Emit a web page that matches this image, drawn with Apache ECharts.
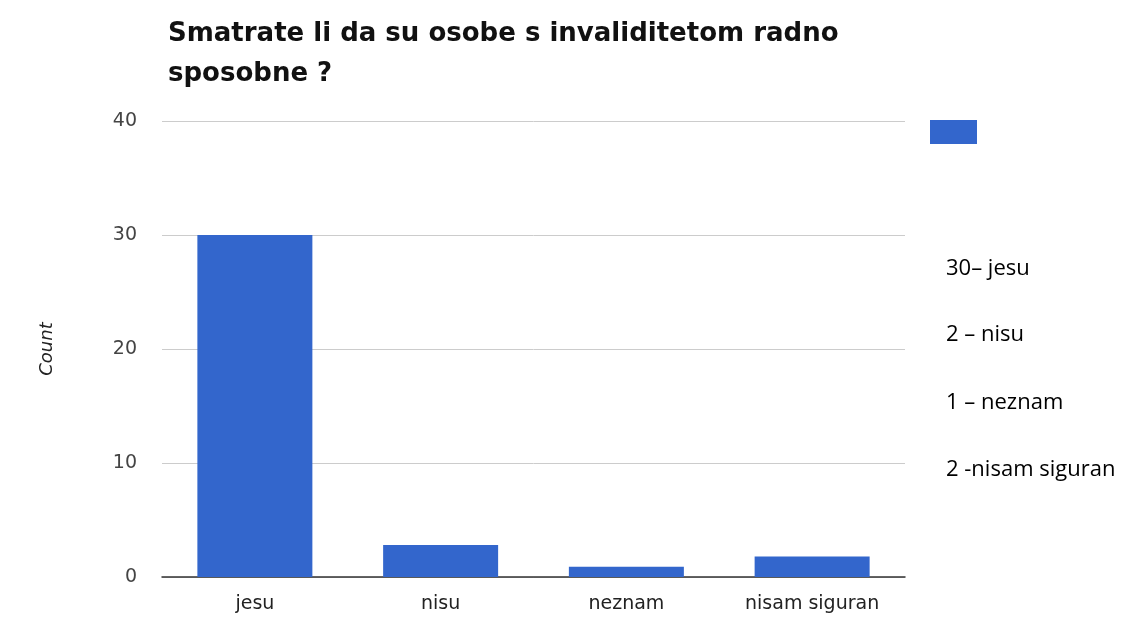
<!DOCTYPE html>
<html>
<head>
<meta charset="utf-8">
<script src="https://cdn.jsdelivr.net/npm/echarts@6/dist/echarts.min.js"></script>
<style>
  html, body { margin: 0; padding: 0; background: #fff; }
  #chart { width: 1146px; height: 617px; }
</style>
</head>
<body>
<div id="chart"></div>
<script>
const categories = ['jesu', 'nisu', 'neznam', 'nisam siguran'];
const counts = [30, 2.8, 0.9, 1.8];
const yTicks = [0, 10, 20, 30, 40];
const noteLines = ['30\u2013 jesu', '2 \u2013 nisu', '1 \u2013 neznam', '2 -nisam siguran'];

const chart = echarts.init(document.getElementById('chart'), null, {renderer: 'canvas'});

// notes typed next to the chart, right side
const notes = noteLines.map((t, i) => ({
  type: 'text',
  left: 946,
  top: [258, 324, 392, 459][i],
  style: {
    text: t,
    font: '22px "Open Sans", "Noto Sans", sans-serif',
    fill: '#000'
  }
}));

const option = {
  animation: false,
  title: {
    text: 'Smatrate li da su osobe s invaliditetom radno\nsposobne ?',
    left: 163,
    top: 9,
    textStyle: {
      fontFamily: '"DejaVu Sans", sans-serif',
      fontWeight: 'bold',
      fontSize: 26,
      lineHeight: 40,
      color: '#111'
    }
  },
  grid: {left: 162, right: 241, top: 121, bottom: 40},
  xAxis: {
    type: 'category',
    data: categories,
    axisLine: {lineStyle: {color: '#333', width: 1.5}},
    axisTick: {show: false},
    axisLabel: {
      color: '#222',
      fontSize: 19,
      fontFamily: '"DejaVu Sans", sans-serif',
      margin: 18
    }
  },
  yAxis: {
    type: 'value',
    min: 0,
    max: 40,
    interval: 10,
    name: 'Count',
    nameLocation: 'middle',
    nameGap: 106,
    nameRotate: 90,
    nameTextStyle: {
      color: '#222',
      fontSize: 18,
      fontStyle: 'italic',
      fontFamily: '"DejaVu Sans", sans-serif'
    },
    axisLine: {show: false},
    axisTick: {show: false},
    axisLabel: {
      color: '#444',
      fontSize: 19,
      fontFamily: '"DejaVu Sans", sans-serif',
      margin: 25,
      formatter: v => yTicks.includes(v) ? String(v) : ''
    },
    splitLine: {lineStyle: {color: '#ccc', width: 1}}
  },
  series: [{
    type: 'bar',
    data: counts,
    barWidth: 115,
    itemStyle: {color: '#3366cc'}
  }],
  graphic: [
    {
      type: 'rect',
      left: 930,
      top: 120,
      shape: {width: 47, height: 24},
      style: {fill: '#3366cc'}
    },
    ...notes
  ]
};

chart.setOption(option);
</script>
</body>
</html>
